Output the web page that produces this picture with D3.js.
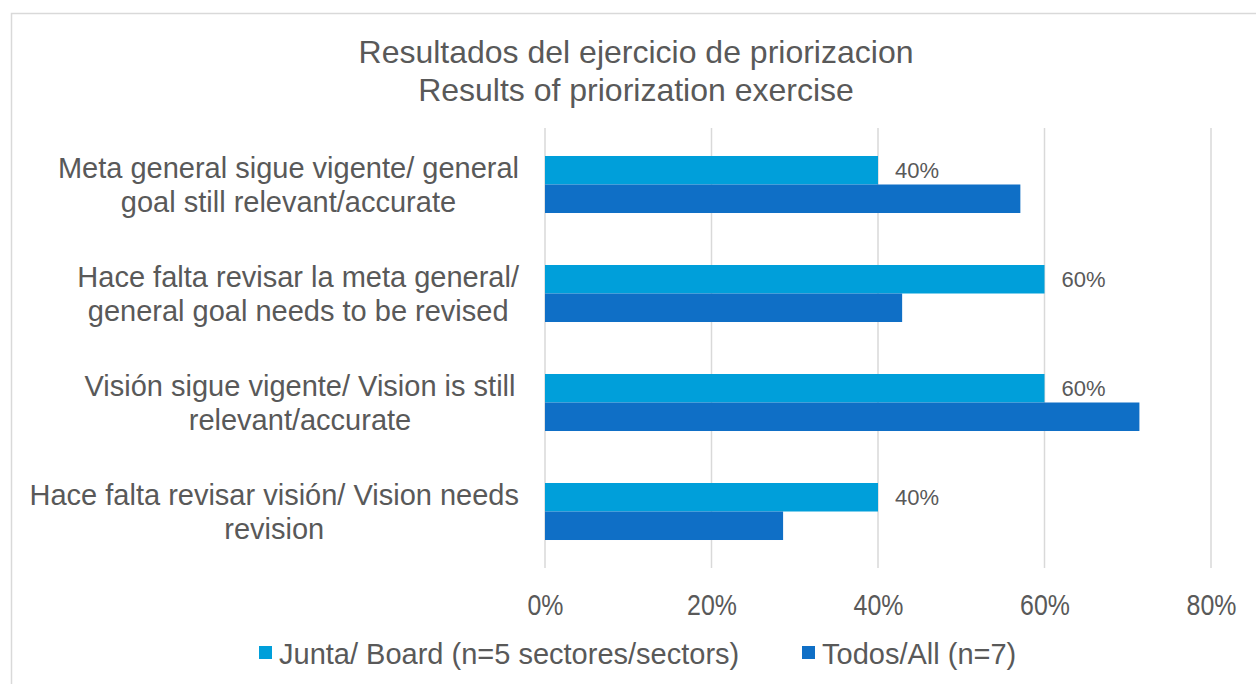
<!DOCTYPE html>
<html>
<head>
<meta charset="utf-8">
<script src="https://cdn.jsdelivr.net/npm/d3@7"></script>
<style>
  body { margin: 0; background: #fff; }
  text { font-family: "Liberation Sans", Arial, sans-serif; fill: #595959; }
</style>
</head>
<body>
<svg id="chart" width="1256" height="684"></svg>
<script>
var categories = [
  ["Meta general sigue vigente/ general", "goal still relevant/accurate"],
  ["Hace falta revisar la meta general/", "general goal needs to be revised"],
  ["Visión sigue vigente/ Vision is still", "relevant/accurate"],
  ["Hace falta revisar visión/ Vision needs", "revision"]
];
var juntaValues = [0.40, 0.60, 0.60, 0.40];
var todosValues = [0.571, 0.429, 0.714, 0.286];
var seriesNames = ["Junta/ Board (n=5 sectores/sectors)", "Todos/All (n=7)"];
var xTicks = [0, 0.2, 0.4, 0.6, 0.8];
var titleLines = ["Resultados del ejercicio de priorizacion", "Results of priorization exercise"];

var colors = ["#009fda", "#0f6fc6"];
var svg = d3.select("#chart");

// outer chart border
svg.append("rect")
  .attr("x", 11.5).attr("y", 13.5)
  .attr("width", 1260).attr("height", 690)
  .attr("fill", "none").attr("stroke", "#d9d9d9").attr("stroke-width", 1.5);

var plotLeft = 545, plotRight = 1211, plotTop = 130, plotBottom = 566;

var x = d3.scaleLinear().domain([0, 0.8]).range([plotLeft, plotRight]);
var y = d3.scaleBand().domain(d3.range(categories.length))
  .range([plotTop, plotBottom]).paddingInner(0.477).paddingOuter(0.2385);
var half = y.bandwidth() / 2;

// title
svg.append("g").selectAll("text").data(titleLines).enter().append("text")
  .attr("x", 636).attr("y", function(d, i){ return 63 + i * 38; })
  .attr("text-anchor", "middle")
  .style("font-size", "32px")
  .text(function(d){ return d; });

// gridlines
svg.append("g").selectAll("line").data(xTicks).enter().append("line")
  .attr("x1", function(d){ return x(d); }).attr("x2", function(d){ return x(d); })
  .attr("y1", plotTop - 2).attr("y2", plotBottom + 2)
  .attr("stroke", "#d9d9d9").attr("stroke-width", 1.5);

// x axis labels
var xAxis = d3.axisBottom(x).tickValues(xTicks).tickFormat(d3.format(".0%")).tickSize(0).tickPadding(0);
var gx = svg.append("g").attr("transform", "translate(0," + 615 + ")").call(xAxis);
gx.select(".domain").remove();
gx.selectAll("text").attr("dy", 0).attr("y", 0)
  .attr("transform", "scale(0.86,1)")
  .style("font-size", "29px").style("font-family", "'Liberation Sans', Arial, sans-serif")
  .attr("fill", "#595959");

// bars
var gJ = svg.append("g");
gJ.selectAll("rect").data(juntaValues).enter().append("rect")
  .attr("x", x(0)).attr("y", function(d, i){ return y(i); })
  .attr("width", function(d){ return x(d) - x(0); })
  .attr("height", half)
  .attr("fill", colors[0]);

var gT = svg.append("g");
gT.selectAll("rect").data(todosValues).enter().append("rect")
  .attr("x", x(0)).attr("y", function(d, i){ return y(i) + half; })
  .attr("width", function(d){ return x(d) - x(0); })
  .attr("height", half)
  .attr("fill", colors[1]);

// data labels for Junta
gJ.selectAll("text").data(juntaValues).enter().append("text")
  .attr("x", function(d){ return x(d) + 17; })
  .attr("y", function(d, i){ return y(i) + half / 2 + 8; })
  .style("font-size", "22px")
  .attr("fill", "#404040")
  .text(function(d){ return d3.format(".0%")(d); });

// category labels (centered, kept left of the axis)
var gc = svg.append("g");
categories.forEach(function(lines, i){
  var c = y(i) + y.bandwidth() / 2;
  var t = gc.append("text")
    .attr("text-anchor", "middle")
    .style("font-size", "29px");
  var spans = lines.map(function(l, j){
    return t.append("tspan")
      .attr("y", c + 10 + (j - (lines.length - 1) / 2) * 34)
      .text(l);
  });
  var maxW = d3.max(spans, function(s){ return s.node().getComputedTextLength(); });
  var cx = Math.min(300, 519 - maxW / 2);
  spans.forEach(function(s){ s.attr("x", cx); });
});

// legend
var legendX = [259, 802];
var lg = svg.append("g");
seriesNames.forEach(function(n, i){
  lg.append("rect").attr("x", legendX[i]).attr("y", 646)
    .attr("width", 13).attr("height", 13).attr("fill", colors[i]);
  lg.append("text").attr("x", legendX[i] + 20).attr("y", 664)
    .style("font-size", "29px").text(n);
});
</script>
</body>
</html>
